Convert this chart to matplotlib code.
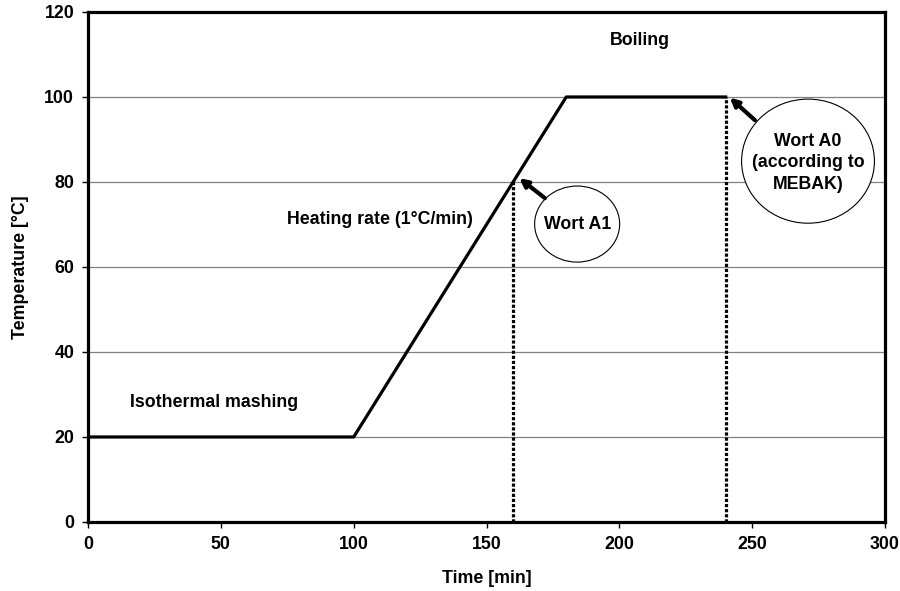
import matplotlib
matplotlib.use("Agg")
import matplotlib.pyplot as plt
from matplotlib.patches import Ellipse

plt.rcParams['font.family'] = ['Liberation Sans', 'DejaVu Sans']
plt.rcParams['font.weight'] = 'bold'

# temperature profile
time_min = [0, 100, 180, 240]
temp_c = [20, 20, 100, 100]

# sampling points (dotted verticals)
sample_t = [160, 240]
sample_temp = [80, 100]

fs = 12.8

fig = plt.figure(figsize=(9, 5.91), dpi=100)
ax = fig.add_axes([0.0978, 0.1168, 0.8856, 0.8629])

ax.plot(time_min, temp_c, color='black', lw=2.3, zorder=3)
for t, tc in zip(sample_t, sample_temp):
    ax.plot([t, t], [0, tc], color='black', lw=2.3, ls=(0, (1, 0.6)), zorder=3)

ax.set_xlim(0, 300)
ax.set_ylim(0, 120)
ax.set_xticks(range(0, 301, 50))
ax.set_yticks(range(0, 121, 20))
ax.yaxis.grid(True, color='#808080', lw=0.9)
ax.set_axisbelow(True)
for s in ax.spines.values():
    s.set_linewidth(2.3)
ax.tick_params(direction='out', length=4, width=1, labelsize=fs, pad=6)
for lb in ax.get_xticklabels() + ax.get_yticklabels():
    lb.set_fontweight('bold')
ax.set_xlabel('Time [min]', fontsize=fs, fontweight='bold', labelpad=12)
ax.set_ylabel('Temperature [°C]', fontsize=fs, fontweight='bold', labelpad=11)

ax.text(207.8, 113.3, 'Boiling', ha='center', va='center', fontsize=fs)
ax.text(110, 71.1, 'Heating rate (1°C/min)', ha='center', va='center', fontsize=fs)
ax.text(47.4, 28.2, 'Isothermal mashing', ha='center', va='center', fontsize=fs)

# annotation bubbles
ax.add_patch(Ellipse((184.1, 70.1), 32, 17.9, fc='white', ec='black', lw=0.8, zorder=4))
ax.text(184.1, 70.1, 'Wort A1', ha='center', va='center', fontsize=fs, zorder=5)
ax.add_patch(Ellipse((271, 84.9), 50, 29.2, fc='white', ec='black', lw=0.8, zorder=4))
ax.text(271, 84.5, 'Wort A0\n(according to\nMEBAK)', ha='center', va='center',
        fontsize=fs, linespacing=1.35, zorder=5)

ax.annotate('', xy=(161.5, 81.3), xytext=(172.8, 75.8),
            arrowprops=dict(arrowstyle='-|>', color='black', lw=3, mutation_scale=12), zorder=5)
ax.annotate('', xy=(240.8, 100.3), xytext=(251.8, 94.1),
            arrowprops=dict(arrowstyle='-|>', color='black', lw=3, mutation_scale=12), zorder=5)

fig.savefig('out.png', dpi=100)
